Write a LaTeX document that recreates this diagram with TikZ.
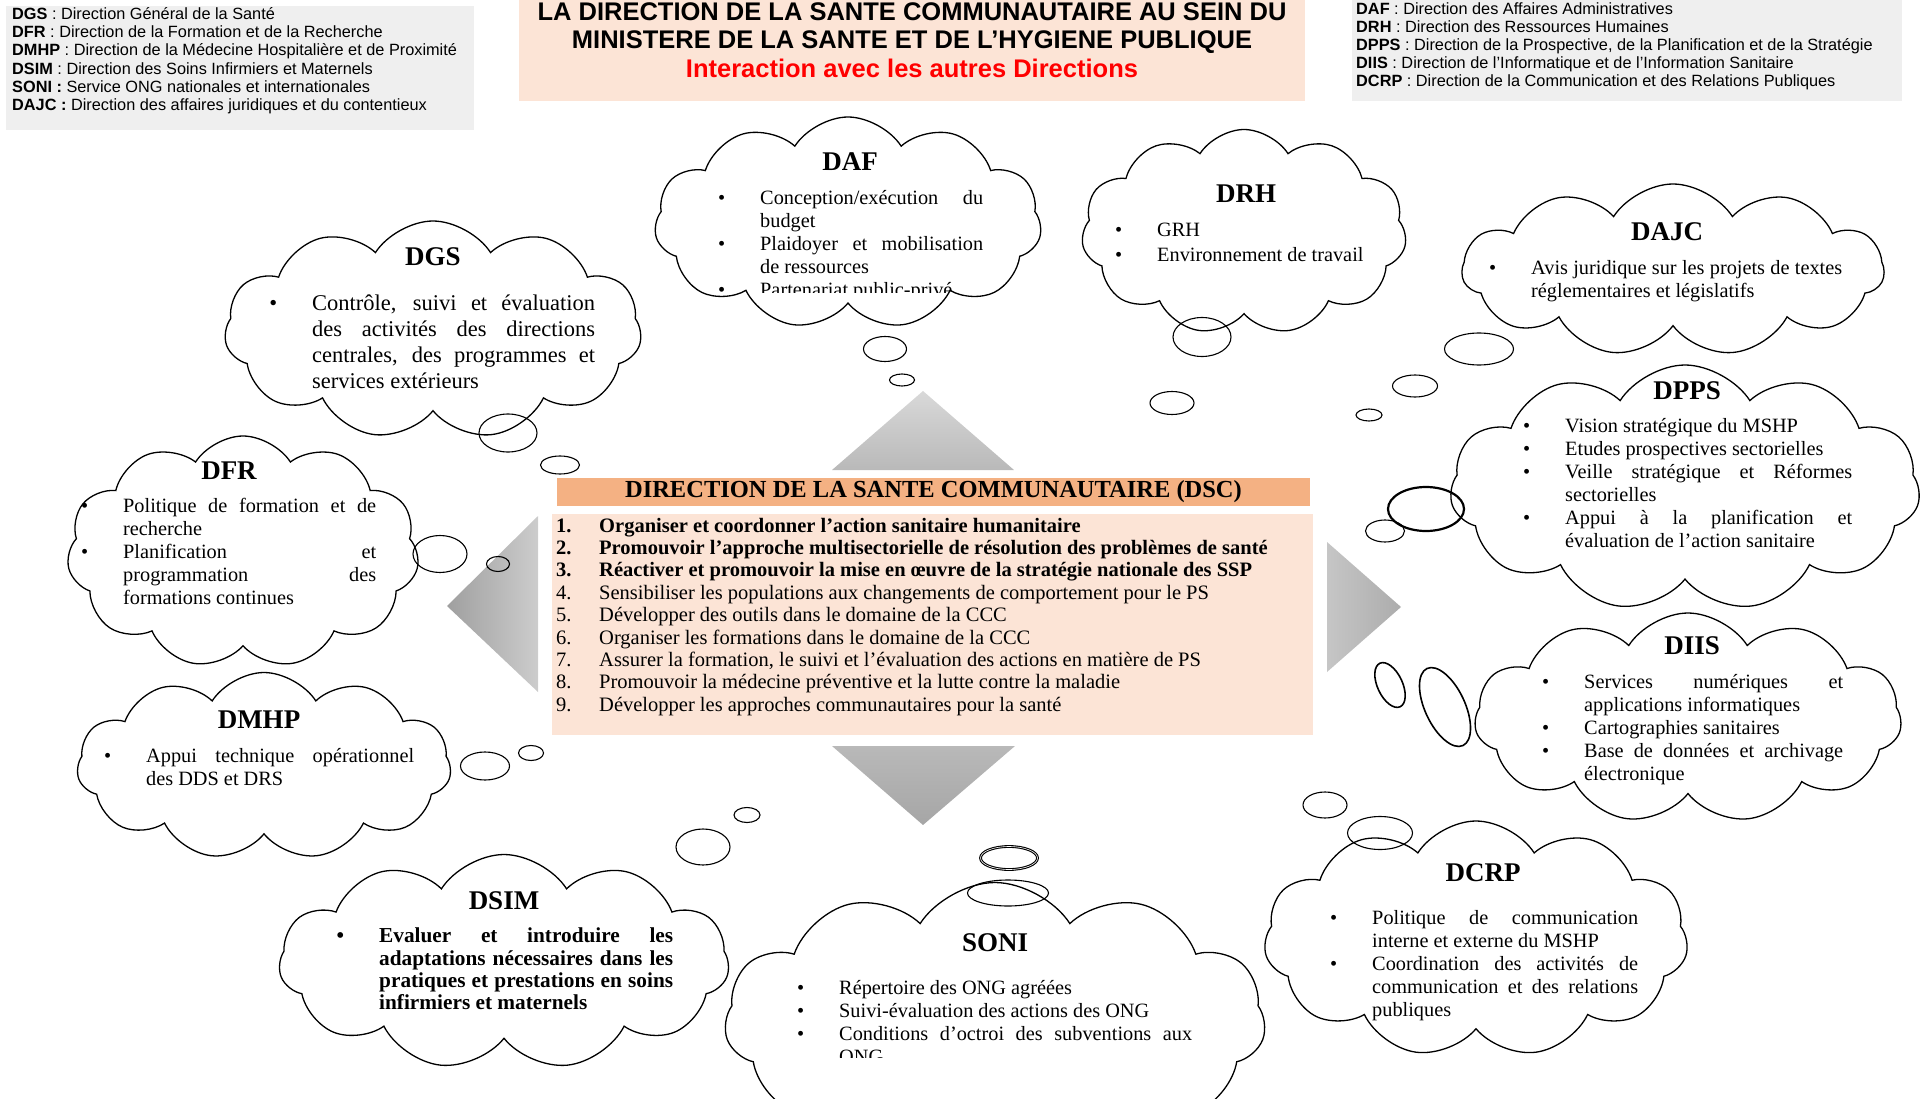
\documentclass[tikz,border=0pt]{standalone}
\usepackage{fontspec}
\setmainfont{Liberation Serif}
\newfontfamily\legende{Liberation Sans}
\usepackage{enumitem}
\usetikzlibrary{shapes.symbols,shapes.geometric,positioning}

\setlist[itemize]{label=\textbullet,leftmargin=40pt,labelsep=35pt,nosep}
\hbadness=10000
\definecolor{peche}{HTML}{FCE4D6}
\definecolor{dscorange}{HTML}{F4B183}
\definecolor{gris}{HTML}{EFEFEF}

\tikzset{
  bulle/.style={cloud, cloud puffs=11, cloud puff arc=115, cloud ignores aspect,
    draw, line width=1.3pt, fill=white, inner sep=0pt},
  boule/.style={ellipse, draw, line width=1.1pt, inner sep=0pt},
  titre/.style={font=\fontsize{27}{30}\selectfont\bfseries},
  liste/.style={anchor=north west, inner sep=0pt, align=justify,
    font=\fontsize{20.3}{23}\selectfont},
}

\begin{document}
\begin{tikzpicture}[x=1pt,y=-1pt]
\useasboundingbox (0,0) rectangle (1927,1099);
\clip (0,0) rectangle (1927,1099);

% legendes et titre
\fill[gris] (6,6) rectangle (474,130);
\node[anchor=north west, inner sep=0pt, align=left,
  font=\legende\fontsize{16.3}{18.3}\selectfont] (leg-g) at (12,7)
  {\textbf{DGS} : Direction Général de la Santé\\
   \textbf{DFR} : Direction de la Formation et de la Recherche\\
   \textbf{DMHP} : Direction de la Médecine Hospitalière et de Proximité\\
   \textbf{DSIM} : Direction des Soins Infirmiers et Maternels\\
   \textbf{SONI :} Service ONG nationales et internationales\\
   \textbf{DAJC :} Direction des affaires juridiques et du contentieux};

\fill[gris] (1352,0) rectangle (1902,101);
\node[anchor=north west, inner sep=0pt, align=left,
  font=\legende\fontsize{16.3}{18.2}\selectfont] (leg-d) at (1356,2)
  {\textbf{DAF} : Direction des Affaires Administratives\\
   \textbf{DRH} : Direction des Ressources Humaines\\
   \textbf{DPPS} : Direction de la Prospective, de la Planification et de la Stratégie\\
   \textbf{DIIS} : Direction de l’Informatique et de l’Information Sanitaire\\
   \textbf{DCRP} : Direction de la Communication et des Relations Publiques};

\fill[peche] (519,0) rectangle (1305,101);
\node[anchor=north, inner sep=0pt, align=center,
  font=\legende\bfseries\fontsize{25.5}{28.5}\selectfont] (titre) at (912,2)
  {LA DIRECTION DE LA SANTE COMMUNAUTAIRE AU SEIN DU\\
   MINISTERE DE LA SANTE ET DE L’HYGIENE PUBLIQUE\\
   {\color{red}\fontsize{25.5}{28.5}\selectfont Interaction avec les autres Directions}};

% fleches
\shade[top color=gray!30, bottom color=gray!55] (923,391) -- (1014,470) -- (832,470) -- cycle;
\shade[top color=gray!55, bottom color=gray!70] (832,746) -- (1015,746) -- (923,825) -- cycle;
\shade[left color=gray!75, right color=gray!40] (447,606) -- (538,516) -- (538,692) -- cycle;
\shade[left color=gray!45, right color=gray!65] (1327,542) -- (1401,607) -- (1327,672) -- cycle;

% DSC
\node[fill=dscorange, minimum width=753pt, minimum height=28pt, inner sep=0pt,
  font=\bfseries\fontsize{24.5}{26}\selectfont] (dsc) at (933.5,492)
  {DIRECTION DE LA SANTE COMMUNAUTAIRE (DSC)};
\node[fill=peche, anchor=north west, minimum width=761pt, minimum height=221pt,
  inner sep=0pt] (dsc-corps) at (552,514) {};
\foreach \n/\t in {1/{Organiser et coordonner l’action sanitaire humanitaire},
    2/{Promouvoir l’approche multisectorielle de résolution des problèmes de santé},
    3/{Réactiver et promouvoir la mise en œuvre de la stratégie nationale des SSP},
    4/{Sensibiliser les populations aux changements de comportement pour le PS},
    5/{Développer des outils dans le domaine de la CCC},
    6/{Organiser les formations dans le domaine de la CCC},
    7/{Assurer la formation, le suivi et l’évaluation des actions en matière de PS},
    8/{Promouvoir la médecine préventive et la lutte contre la maladie},
    9/{Développer les approches communautaires pour la santé}}{
  \node[anchor=base west, inner sep=0pt, font=\fontsize{20.5}{22}\selectfont]
    (num-\n) at (556,{532+22.4*(\n-1)}) {\ifnum\n<4\bfseries\fi\n.};
  \node[anchor=base west, inner sep=0pt, font=\fontsize{20.5}{22}\selectfont]
    (obj-\n) at (599,{532+22.4*(\n-1)}) {\ifnum\n<4\bfseries\fi\t};
}

% nuages
\node[bulle, minimum width=387pt, minimum height=212pt] (daf) at (848,223) {};
\node[bulle, minimum width=325pt, minimum height=205pt] (drh) at (1244,232) {};
\node[bulle, minimum width=422pt, minimum height=172pt] (dajc) at (1673,270) {};
\node[bulle, minimum width=470pt, minimum height=246pt] (dpps) at (1685,488) {};
\node[bulle, minimum width=427pt, minimum height=210pt] (diis) at (1688,718) {};
\node[bulle, minimum width=424pt, minimum height=236pt] (dcrp) at (1476,939) {};
\node[bulle, minimum width=541pt, minimum height=275pt] (soni) at (995,1020) {};
\node[bulle, minimum width=417pt, minimum height=218pt] (dgs) at (433,330) {};
\node[bulle, shape border rotate=14, minimum width=352pt, minimum height=232pt] (dfr) at (243,552) {};
\node[bulle, minimum width=374pt, minimum height=187pt] (dmhp) at (264,766) {};
\node[bulle, minimum width=450pt, minimum height=215pt] (dsim) at (504,962) {};

% bulles de pensee
\node[boule, minimum width=43pt, minimum height=25pt] (daf-b1) at (885,349) {};
\node[boule, minimum width=25pt, minimum height=12pt] (daf-b2) at (902,380) {};
\node[boule, minimum width=58pt, minimum height=39pt] (drh-b1) at (1202,337) {};
\node[boule, minimum width=44pt, minimum height=23pt] (drh-b2) at (1172,403) {};
\node[boule, minimum width=69pt, minimum height=32pt] (dajc-b1) at (1479,349) {};
\node[boule, minimum width=45pt, minimum height=22pt] (dajc-b2) at (1415,386) {};
\node[boule, minimum width=26pt, minimum height=12pt] (dajc-b3) at (1369,415) {};
\node[boule, line width=2.2pt, minimum width=76pt, minimum height=44pt] (dpps-b1) at (1426,509) {};
\node[boule, minimum width=39pt, minimum height=22pt] (dpps-b2) at (1385,531) {};
\node[boule, line width=1.6pt, minimum width=40pt, minimum height=85pt, rotate=25] (diis-b1) at (1445,707) {};
\node[boule, line width=1.6pt, minimum width=25pt, minimum height=48pt, rotate=25] (diis-b2) at (1390,685) {};
\node[boule, minimum width=65pt, minimum height=33pt] (dcrp-b1) at (1380,833) {};
\node[boule, minimum width=44pt, minimum height=26pt] (dcrp-b2) at (1325,805) {};
\node[boule, minimum width=81pt, minimum height=26pt] (soni-b1) at (1008,893) {};
\node[boule, double, minimum width=57pt, minimum height=23pt] (soni-b2) at (1009,858) {};
\node[boule, minimum width=58pt, minimum height=38pt] (dgs-b1) at (508,433) {};
\node[boule, minimum width=39pt, minimum height=18pt] (dgs-b2) at (560,465) {};
\node[boule, minimum width=54pt, minimum height=37pt] (dfr-b1) at (440,554) {};
\node[boule, minimum width=23pt, minimum height=15pt] (dfr-b2) at (498,564) {};
\node[boule, minimum width=49pt, minimum height=28pt] (dmhp-b1) at (485,766) {};
\node[boule, minimum width=25pt, minimum height=15pt] (dmhp-b2) at (531,753) {};
\node[boule, minimum width=54pt, minimum height=36pt] (dsim-b1) at (703,847) {};
\node[boule, minimum width=26pt, minimum height=15pt] (dsim-b2) at (747,815) {};

% textes des nuages
\node[titre] (daf-t) at (850,162) {DAF};
\begin{scope}
  \clip (650,150) rectangle (1050,293);
  \node[liste, text width=263pt] (daf-l) at (720,181) {\begin{itemize}
    \item Conception/exécution du\linebreak budget
    \item Plaidoyer et mobilisation\linebreak de ressources
    \item Partenariat public-privé
  \end{itemize}};
\end{scope}

\node[titre] (drh-t) at (1246,194) {DRH};
\node[liste, text width=300pt, font=\fontsize{20.3}{25}\selectfont] (drh-l) at (1117,211) {\begin{itemize}
  \item GRH
  \item Environnement de travail
\end{itemize}};

\node[titre] (dajc-t) at (1667,232) {DAJC};
\node[liste, text width=351pt] (dajc-l) at (1491,251) {\begin{itemize}
  \item Avis juridique sur les projets de textes\linebreak réglementaires et législatifs
\end{itemize}};

\node[titre] (dpps-t) at (1687,391) {DPPS};
\node[liste, text width=327pt] (dpps-l) at (1525,409) {\begin{itemize}
  \item Vision stratégique du MSHP
  \item Etudes prospectives sectorielles
  \item Veille stratégique et Réformes\linebreak sectorielles
  \item Appui à la planification et\linebreak évaluation de l’action sanitaire
\end{itemize}};

\node[titre] (diis-t) at (1692,646) {DIIS};
\node[liste, text width=299pt] (diis-l) at (1544,665) {\begin{itemize}
  \item Services numériques et\linebreak applications informatiques
  \item Cartographies sanitaires
  \item Base de données et archivage\linebreak électronique
\end{itemize}};

\node[titre] (dcrp-t) at (1483,873) {DCRP};
\node[liste, text width=306pt] (dcrp-l) at (1332,901) {\begin{itemize}
  \item Politique de communication\linebreak interne et externe du MSHP
  \item Coordination des activités de\linebreak communication et des relations\linebreak publiques
\end{itemize}};

\node[titre] (soni-t) at (995,943) {SONI};
\begin{scope}
  \clip (780,960) rectangle (1250,1057);
  \node[liste, text width=393pt] (soni-l) at (799,971) {\begin{itemize}
    \item Répertoire des ONG agréées
    \item Suivi-évaluation des actions des ONG
    \item Conditions d’octroi des subventions aux\linebreak ONG
  \end{itemize}};
\end{scope}

\node[titre] (dgs-t) at (433,257) {DGS};
\node[liste, text width=323pt, font=\fontsize{22.5}{26}\selectfont] (dgs-l) at (272,284) {\begin{itemize}
  \item Contrôle, suivi et évaluation\linebreak des activités des directions\linebreak
    centrales, des programmes et\linebreak services extérieurs
\end{itemize}};

\node[titre] (dfr-t) at (229,471) {DFR};
\node[liste, text width=293pt] (dfr-l) at (83,489) {\begin{itemize}
  \item Politique de formation et de\linebreak recherche
  \item Planification et\linebreak programmation des\linebreak formations continues
\end{itemize}};

\node[titre] (dmhp-t) at (259,720) {DMHP};
\node[liste, text width=308pt] (dmhp-l) at (106,739) {\begin{itemize}
  \item Appui technique opérationnel\linebreak des DDS et DRS
\end{itemize}};

\node[titre] (dsim-t) at (504,901) {DSIM};
\node[liste, text width=334pt, font=\fontsize{21.3}{22.4}\selectfont\bfseries] (dsim-l) at (339,920) {\begin{itemize}
  \item Evaluer et introduire les\linebreak adaptations nécessaires dans les\linebreak
    pratiques et prestations en soins\linebreak infirmiers et maternels
\end{itemize}};
\end{tikzpicture}
\end{document}
